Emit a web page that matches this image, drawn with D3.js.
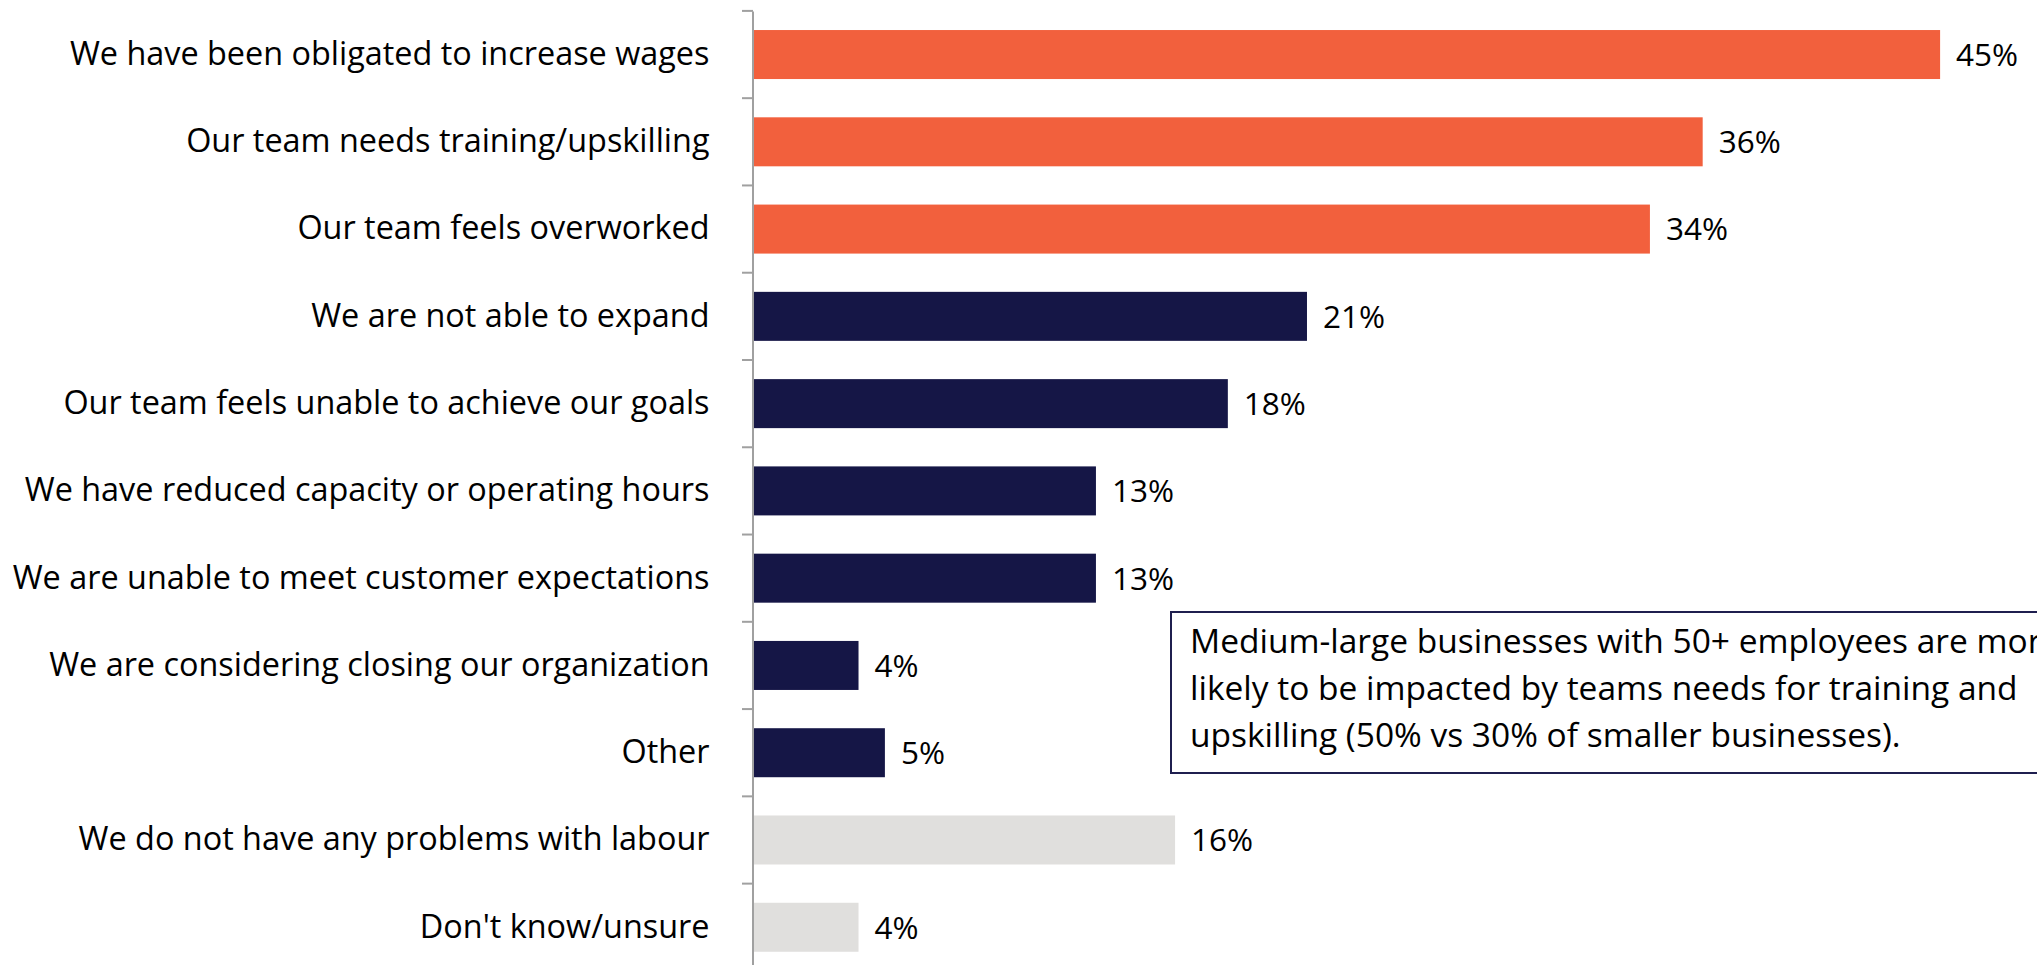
<!DOCTYPE html>
<html>
<head>
<meta charset="utf-8">
<script src="https://cdn.jsdelivr.net/npm/d3@7"></script>
<style>
  html, body { margin: 0; padding: 0; background: #ffffff; overflow: hidden; }
  svg { display: block; font-family: "Open Sans", "Noto Sans", sans-serif; }
</style>
</head>
<body>
<svg id="chart" width="2037" height="965"></svg>
<script>
// Labour-shortage impacts, share of respondents (%)
const categories = [
  "We have been obligated to increase wages",
  "Our team needs training/upskilling",
  "Our team feels overworked",
  "We are not able to expand",
  "Our team feels unable to achieve our goals",
  "We have reduced capacity or operating hours",
  "We are unable to meet customer expectations",
  "We are considering closing our organization",
  "Other",
  "We do not have any problems with labour",
  "Don't know/unsure"
];
const values = [45, 36, 34, 21, 18, 13, 13, 4, 5, 16, 4];
// highlight group for each row: top impacts, other impacts, no-problem answers
const groups = ["top", "top", "top", "other", "other", "other", "other", "other", "other", "none", "none"];
const groupColors = { top: "#F2603D", other: "#151646", none: "#E0DFDD" };
const noteLines = [
  "Medium-large businesses with 50+ employees are more",
  "likely to be impacted by teams needs for training and",
  "upskilling (50% vs 30% of smaller businesses)."
];

const rows = categories.map((c, i) => ({ cat: c, value: values[i], group: groups[i] }));

const svg = d3.select("#chart");
const axisX = 753;

const x = d3.scaleLinear().domain([0, 50]).range([axisX, axisX + 1319]);
const y = d3.scaleBand()
  .domain(categories)
  .range([10.9, 970.9])
  .paddingInner(0.4385)
  .paddingOuter(0.21925);

// bars
svg.append("g").selectAll("rect")
  .data(rows)
  .join("rect")
  .attr("x", x(0))
  .attr("y", d => y(d.cat))
  .attr("width", d => x(d.value) - x(0))
  .attr("height", y.bandwidth())
  .attr("fill", d => groupColors[d.group]);

// value labels
svg.append("g").selectAll("text")
  .data(rows)
  .join("text")
  .attr("x", d => x(d.value) + 16)
  .attr("y", d => y(d.cat) + y.bandwidth() / 2)
  .attr("dy", "0.36em")
  .attr("font-size", 31.5)
  .attr("fill", "#000")
  .text(d => d.value + "%");

// category axis with labels
const axis = svg.append("g")
  .attr("transform", `translate(${axisX - 0.5},0)`)
  .call(d3.axisLeft(y).tickSize(0).tickSizeOuter(0).tickPadding(43));
axis.select(".domain").attr("stroke", "#A0A0A0").attr("stroke-width", 2);
axis.selectAll(".tick text")
  .attr("font-size", 32.4)
  .attr("font-family", "'Open Sans', 'Noto Sans', sans-serif")
  .attr("fill", "#000");

// tick marks at category boundaries
const boundaries = d3.range(categories.length + 1).map(i => y.range()[0] + i * y.step());
svg.append("g").selectAll("line")
  .data(boundaries)
  .join("line")
  .attr("x1", axisX - 11)
  .attr("x2", axisX)
  .attr("y1", d => d)
  .attr("y2", d => d)
  .attr("stroke", "#A0A0A0")
  .attr("stroke-width", 2);

// callout note
const note = svg.append("g");
note.append("rect")
  .attr("x", 1171)
  .attr("y", 612)
  .attr("width", 1000)
  .attr("height", 161)
  .attr("fill", "#ffffff")
  .attr("stroke", "#1F1F4F")
  .attr("stroke-width", 2);
note.selectAll("text")
  .data(noteLines)
  .join("text")
  .attr("x", 1190)
  .attr("y", (d, i) => 653 + i * 46.8)
  .attr("font-size", 33.5)
  .attr("fill", "#000")
  .text(d => d);
</script>
</body>
</html>
